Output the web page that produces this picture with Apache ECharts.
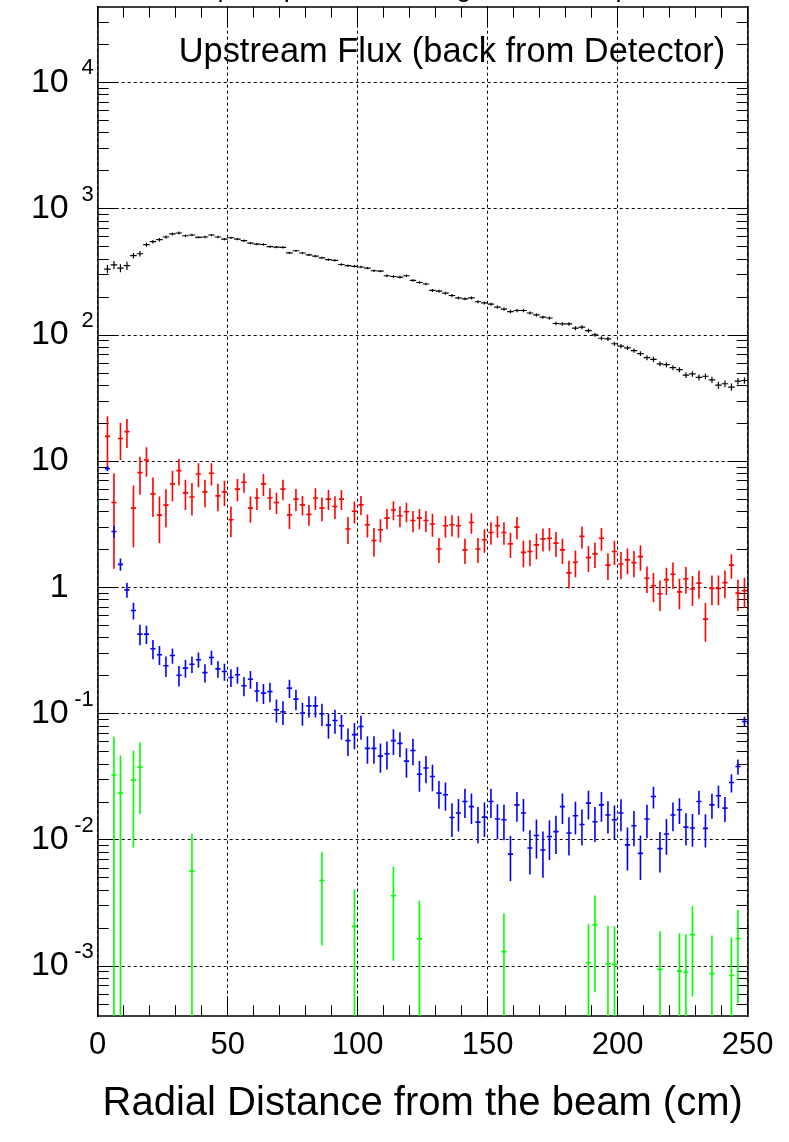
<!DOCTYPE html>
<html><head><meta charset="utf-8">
<script src="https://cdn.jsdelivr.net/npm/echarts@6/dist/echarts.min.js"></script>
<style>html,body{margin:0;padding:0;background:#fff}#c{width:789px;height:1142px}</style>
</head><body><div id="c"></div>
<script>
// ---------- data (histogram bins: first filled bin centre 3.75 cm, width 2.5 cm) ----------
const binStart = 3.75, binWidth = 2.5;
const blackVals = [332,359,338,353,424,439,518,547,568,596,
 630,641,610,618,592,596,618,596,574,588,
 574,557,534,524,520,501,496,493,447,464,
 445,431,421,408,394,389,361,353,349,345,
 338,322,320,294,290,287,294,270,260,253,
 225,222,214,205,196,193,196,183,179,175,
 166,160,153,156,156,149,144,138,136,123,
 122,122,113,115,108,100,94,93,85,81.5,
 79,75,71,66,64,59,58,55,53,48,
 49,46,47,44,40,41,38.6,43,43.5];
const blackErrs = [25,26,25,26,22,22,18,18,18,18,
 18,18,14,14,13,13,13,13,12,12,
 12,12,11,11,11,10,10,10,9,9,
 9,9,9,8,8,8,8,8,8,8,
 7,7,7,7,7,7,7,6,6,6,
 6,6,6,6,5,5,5,5,5,5,
 5,5,5,5,5,4,4,4,4,4,
 4,4,4,4,4,3.5,3.5,3.5,3,3,
 3,3,3,3,3,2.5,2.5,2.5,2.5,2.5,
 2.5,2.5,2.5,2.5,2.5,2.5,2.5,2.5,2.5];
const redVals = [15.7,4.7,15.1,17.1,4.24,8.1,10.2,5.5,3.73,4.48,
 6.6,8.4,5.6,5.2,7.9,5.7,8.0,5.3,5.7,3.43,
 6.0,6.8,4.24,5.1,6.6,5.1,4.7,6.0,3.75,5.0,
 4.5,3.78,5.1,4.24,5.0,4.37,5.0,2.9,4.0,4.5,
 3.13,2.35,2.86,3.53,4.1,3.69,3.97,3.38,3.53,3.38,
 3.17,2.01,3.07,3.13,3.07,1.98,3.26,2.01,2.38,2.72,
 3.07,2.72,2.21,3.0,1.89,1.92,2.17,2.42,2.45,2.24,
 1.98,1.30,1.58,2.53,1.72,1.84,2.45,1.50,1.92,1.53,
 1.65,1.57,1.75,1.18,1.03,0.89,1.15,1.27,0.92,1.17,
 0.97,1.08,0.56,0.98,0.98,1.09,1.50,0.90,0.94];
const redErrs = [7.0,3.3,4.9,4.4,2.16,2.7,2.7,1.9,1.5,1.5,
 1.8,2.0,1.5,1.5,1.7,1.4,1.6,1.3,1.3,0.94,
 1.2,1.2,1.0,1.0,1.3,1.0,0.9,1.1,0.85,1.0,
 0.8,0.7,1.0,0.9,0.9,0.9,0.9,0.7,0.8,0.78,
 0.65,0.6,0.6,0.65,0.7,0.7,0.7,0.65,0.65,0.65,
 0.65,0.45,0.6,0.6,0.6,0.45,0.6,0.45,0.5,0.55,
 0.6,0.55,0.5,0.6,0.45,0.45,0.5,0.5,0.5,0.5,
 0.45,0.32,0.38,0.5,0.4,0.42,0.5,0.36,0.42,0.37,
 0.38,0.37,0.4,0.28,0.27,0.24,0.28,0.3,0.25,0.28,
 0.26,0.27,0.19,0.26,0.26,0.27,0.33,0.25,0.25];
const blueVals = [8.7,2.77,1.52,0.955,0.655,0.426,0.426,0.326,0.292,0.239,
 0.288,0.201,0.229,0.246,0.267,0.211,0.278,0.226,0.215,0.193,
 0.203,0.166,0.187,0.151,0.145,0.149,0.107,0.103,0.159,0.130,
 0.101,0.115,0.115,0.0995,0.081,0.088,0.080,0.061,0.068,0.079,
 0.053,0.053,0.046,0.048,0.061,0.058,0.042,0.051,0.033,0.037,
 0.0317,0.0234,0.0227,0.0150,0.0163,0.0201,0.0183,0.0138,0.0151,0.0201,
 0.0146,0.0144,0.0077,0.0189,0.0163,0.0086,0.0108,0.0083,0.0106,0.0116,
 0.0183,0.0113,0.0155,0.0132,0.0195,0.0139,0.0189,0.0157,0.0144,0.0163,
 0.0091,0.0129,0.0078,0.0146,0.0220,0.0085,0.0111,0.0157,0.0173,0.0126,
 0.0124,0.0201,0.0123,0.0189,0.0223,0.0178,0.0284,0.038,0.0865];
const blueErrs = [0.4,0.3,0.17,0.13,0.1,0.078,0.07,0.057,0.05,0.044,
 0.04,0.037,0.037,0.037,0.037,0.035,0.036,0.034,0.033,0.031,
 0.031,0.029,0.03,0.027,0.026,0.026,0.022,0.022,0.026,0.024,
 0.021,0.022,0.022,0.02,0.018,0.019,0.018,0.015,0.016,0.017,
 0.013,0.013,0.012,0.012,0.014,0.013,0.011,0.012,0.009,0.009,
 0.0075,0.0058,0.0057,0.0045,0.0047,0.0052,0.005,0.0044,0.0046,0.0052,
 0.0045,0.0045,0.003,0.005,0.0047,0.0033,0.0037,0.0033,0.0037,0.0039,
 0.005,0.0038,0.0045,0.0042,0.005,0.0043,0.005,0.0045,0.0043,0.0046,
 0.0034,0.004,0.003,0.0043,0.0043,0.003,0.0035,0.004,0.004,0.0036,
 0.0036,0.0043,0.0036,0.0042,0.0045,0.004,0.0047,0.0052,0.008];
const greenX = [6.25,8.75,13.75,16.25,36.25,86.25,98.75,113.75,123.75,156.25,188.75,191.25,196.25,198.75,216.25,223.75,226.25,228.75,236.25,243.75,246.25];
const greenVals = [0.0326,0.0234,0.0297,0.0376,0.00564,0.00475,0.00206,0.0036,0.00164,0.0013,0.00106,0.00212,0.00104,0.00103,0.00094,0.00091,0.00089,0.00177,0.00087,0.00084,0.00165];
const greenErrs = [0.033,0.023,0.021,0.0217,0.0055,0.0033,0.002,0.0025,0.00164,0.0013,0.0011,0.0015,0.00104,0.00103,0.00094,0.00091,0.00089,0.0012,0.00087,0.00084,0.00114];
const yDecades = [-3,-2,-1,0,1,2,3,4];           // exponents of the labelled decades
const titleText = 'Rate of 6 GeV peak photons on target: 6.6x10{s|7} per second';
const legendText = 'Upstream Flux (back from Detector)';
const xTitle = 'Radial Distance from the beam (cm)';

// ---------- axis range (log10 space) ----------
const Y_MIN = Math.log10(4.0e-4), Y_MAX = Math.log10(3.98e4);
const FONT = "'Liberation Sans', Arial, Helvetica, sans-serif";

const yMinor = [];
for (let n = -4; n <= 4; n++) for (let k = 2; k <= 9; k++) {
  const v = n + Math.log10(k);
  if (v > Y_MIN + 1e-6 && v < Y_MAX - 1e-6) yMinor.push(v);
}
const centres = blackVals.map((_, i) => binStart + i * binWidth);
function build(xs, vals, errs) {
  return xs.map((x, i) => {
    const v = vals[i], e = errs[i], lo = v - e;
    return [x, lo > 0 ? Math.log10(lo) : Y_MIN - 5, Math.log10(v), Math.log10(v + e)];
  });
}
function makeRender(color, hw, lw) {
  return function (params, api) {
    const x = api.value(0);
    const lo = Math.max(api.value(1), Y_MIN), mid = api.value(2), hi = Math.min(api.value(3), Y_MAX);
    const a = api.coord([x, lo]), b = api.coord([x, hi]);
    const l = api.coord([x - hw, mid]), r = api.coord([x + hw, mid]);
    const ch = [];
    if (b[1] < a[1]) ch.push({type: 'line', shape: {x1: a[0], y1: a[1], x2: b[0], y2: b[1]}, style: {stroke: color, lineWidth: lw}});
    if (mid >= Y_MIN && mid <= Y_MAX) ch.push({type: 'line', shape: {x1: l[0], y1: l[1], x2: r[0], y2: r[1]}, style: {stroke: color, lineWidth: lw}});
    return {type: 'group', children: ch};
  };
}
function errSeries(name, data, color, hw, lw) {
  return {type: 'custom', name, data, renderItem: makeRender(color, hw, lw),
    encode: {x: 0, y: [1, 2, 3]}, silent: true, animation: false, clip: true};
}
const dotted = {show: true, lineStyle: {color: '#000', width: 1, type: [3, 3]}};
function axLine(show) { return {show, onZero: false, lineStyle: {color: '#000', width: 1.5}}; }
function xAx(pos, interval, len, main) {
  return {type: 'value', min: 0, max: 250, interval, position: pos,
    axisLine: axLine(main),
    axisTick: {show: true, inside: true, length: len, lineStyle: {color: '#000', width: 1}},
    axisLabel: (main && pos === 'bottom') ? {show: true, fontSize: 31, color: '#000', fontFamily: FONT, margin: 14} : {show: false},
    splitLine: (main && pos === 'bottom') ? dotted : {show: false}};
}
function yAx(pos, vals, len, main) {
  return {type: 'value', min: Y_MIN, max: Y_MAX, position: pos,
    axisLine: axLine(main),
    axisTick: {show: true, inside: true, length: len, customValues: vals, lineStyle: {color: '#000', width: 1}},
    axisLabel: (main && pos === 'left') ? {
      show: true, customValues: vals, margin: 4, color: '#000',
      formatter: function (v) {
        const n = Math.round(v);
        if (n === 0) return '{b|1}{e| }';
        if (n === 1) return '{b|10}{e| }';
        return '{b|10}{e|' + n + '}';
      },
      rich: {
        b: {fontSize: 34, fontFamily: FONT, color: '#000'},
        e: {fontSize: 22, fontFamily: FONT, color: '#000', width: 20, align: 'right', padding: [0, 0, 28, 5]}
      }
    } : {show: false},
    splitLine: (main && pos === 'left') ? dotted : {show: false}};
}

const chart = echarts.init(document.getElementById('c'), null, {renderer: 'canvas'});
chart.setOption({
  backgroundColor: '#fff',
  animation: false,
  grid: {left: 97.7, top: 6.7, width: 650, height: 1009.5, containLabel: false, outerBoundsMode: 'none'},
  xAxis: [
    Object.assign(xAx('bottom', 50, 20, true), {name: xTitle, nameLocation: 'middle', nameGap: 68,
      nameTextStyle: {fontSize: 40, color: '#000', fontFamily: FONT}}),
    xAx('bottom', 10, 11, false),
    xAx('top', 50, 20, true),
    xAx('top', 10, 11, false)
  ],
  yAxis: [
    yAx('left', yDecades, 20, true),
    yAx('left', yMinor, 11, false),
    yAx('right', yDecades, 20, true),
    yAx('right', yMinor, 11, false)
  ],
  graphic: [
    {type: 'text', x: 39, y: 9, silent: true,
      style: {text: titleText, fontSize: 27, fontFamily: FONT, fill: '#000', verticalAlign: 'bottom',
        rich: {s: {fontSize: 18, fontFamily: FONT, padding: [0, 6, 22, 2]}}}},
    {type: 'text', x: 178.7, y: 53, silent: true,
      style: {text: legendText, fontSize: 34.4, fontFamily: FONT, fill: '#000', verticalAlign: 'middle'}}
  ],
  series: [
    errSeries('black', build(centres, blackVals, blackErrs), '#000000', 1.25, 1.2),
    errSeries('red', build(centres, redVals, redErrs), '#ff0000', 1.0, 1.6),
    errSeries('blue', build(centres, blueVals, blueErrs), '#0000ff', 1.0, 1.6),
    errSeries('green', build(greenX, greenVals, greenErrs), '#00ff00', 1.0, 1.6)
  ]
});
</script></body></html>
